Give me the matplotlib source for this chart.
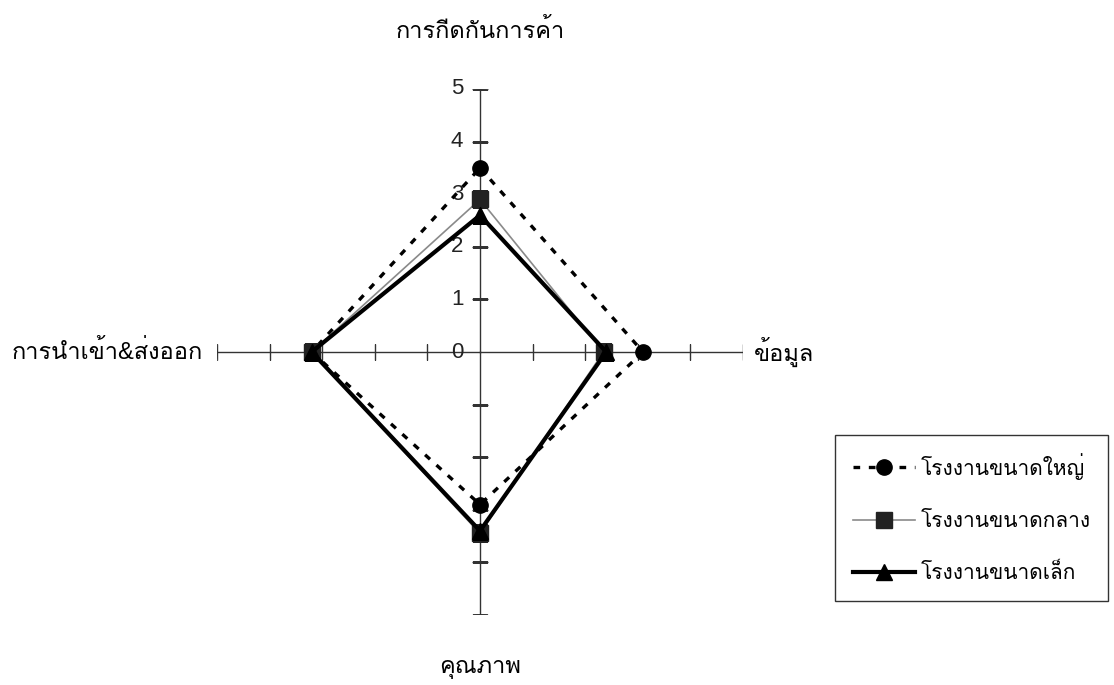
import numpy as np
import matplotlib
matplotlib.use("Agg")
import matplotlib.pyplot as plt
from matplotlib import font_manager
from matplotlib.ft2font import FT2Font
from matplotlib.lines import Line2D

# ---------------- data ----------------
axis_labels = ["การกีดกันการค้า", "ข้อมูล", "คุณภาพ", "การนำเข้า&ส่งออก"]
series_names = ["โรงงานขนาดใหญ่", "โรงงานขนาดกลาง", "โรงงานขนาดเล็ก"]
large_vals = [3.5, 3.1, 2.9, 3.2]
medium_vals = [2.9, 2.35, 3.45, 3.2]
small_vals = [2.6, 2.4, 3.4, 3.2]
tick_values = [0, 1, 2, 3, 4, 5]
tick_labels = ["0", "1", "2", "3", "4", "5"]
r_max = 5

# ---------------- fonts ----------------
def find_thai_fonts():
    names = []
    for f in font_manager.fontManager.ttflist:
        try:
            cm = FT2Font(f.fname).get_charmap()
            if 0x0E01 in cm and f.name not in names:
                names.append(f.name)
        except Exception:
            pass
    return names

thai = find_thai_fonts()
families = ["Liberation Sans"] + thai + ["DejaVu Sans"]
plt.rcParams["font.family"] = families

W, H = 1114, 685
fig = plt.figure(figsize=(W / 100, H / 100), dpi=100)
fig.patch.set_facecolor("white")

cx, cy, rad = 480, 352, 263
ax = fig.add_axes([(cx - rad) / W, 1 - (cy + rad) / H, 2 * rad / W, 2 * rad / H],
                  projection="polar")
ax.set_theta_zero_location("N")
ax.set_theta_direction(-1)
ax.set_ylim(0, r_max)
ax.grid(False)
ax.spines["polar"].set_visible(False)
ax.set_xticks([])
ax.set_yticks([])
ax.patch.set_alpha(0)

n = len(axis_labels)
theta = np.arange(n) * 2 * np.pi / n

# spokes and cross ticks
for i, t in enumerate(theta):
    ax.plot([t, t], [0, r_max], color="#333333", lw=1.0, zorder=1)
    mk = "_" if i % 2 == 0 else "|"
    ax.plot([t] * (len(tick_values) - 1), tick_values[1:], linestyle="none",
            marker=mk, markersize=12, markeredgewidth=1.0, color="#333333", zorder=1)

# tick labels on the top spoke
for v, lab in zip(tick_values, tick_labels):
    ax.annotate(lab, xy=(0, v), xytext=(-12, 0), textcoords="offset points",
                ha="right", va="center", fontsize=16, color="#222222")

def closed(vals):
    return np.append(theta, theta[0]), np.append(vals, vals[0])

t, r = closed(large_vals)
ax.plot(t, r, color="black", lw=2.4, linestyle=(0, (2, 2.6)), zorder=3,
        marker="o", markersize=11, markevery=list(range(n)))
t, r = closed(medium_vals)
ax.plot(t, r, color="#8a8a8a", lw=1.2, linestyle="-", zorder=4,
        marker="s", markersize=11, markerfacecolor="#222222", markeredgecolor="#222222",
        markevery=list(range(n)))
t, r = closed(small_vals)
ax.plot(t, r, color="black", lw=3.0, linestyle="-", zorder=5,
        marker="^", markersize=12, markevery=list(range(n)))

# axis labels
fs = 17
fig.text(cx / W, 1 - 31 / H, axis_labels[0], ha="center", va="center", fontsize=fs)
fig.text(754 / W, 1 - cy / H, axis_labels[1], ha="left", va="center", fontsize=fs)
fig.text(cx / W, 1 - 668 / H, axis_labels[2], ha="center", va="center", fontsize=fs)
fig.text(203 / W, 1 - cy / H, axis_labels[3], ha="right", va="center", fontsize=fs)

# legend
handles = [
    Line2D([], [], color="black", lw=2.4, linestyle=(0, (2, 2.6)), marker="o", markersize=11),
    Line2D([], [], color="#8a8a8a", lw=1.2, marker="s", markersize=11,
           markerfacecolor="#222222", markeredgecolor="#222222"),
    Line2D([], [], color="black", lw=3.0, marker="^", markersize=12),
]
leg = fig.legend(handles, series_names, loc="upper left",
                 bbox_to_anchor=(835 / W, 1 - 435 / H), borderaxespad=0,
                 fontsize=15, frameon=True, fancybox=False, edgecolor="black",
                 handlelength=3.0, handletextpad=0.25, labelspacing=1.55,
                 borderpad=0.85)
leg.get_frame().set_linewidth(1.0)

fig.savefig("out.png", dpi=100, facecolor="white")
